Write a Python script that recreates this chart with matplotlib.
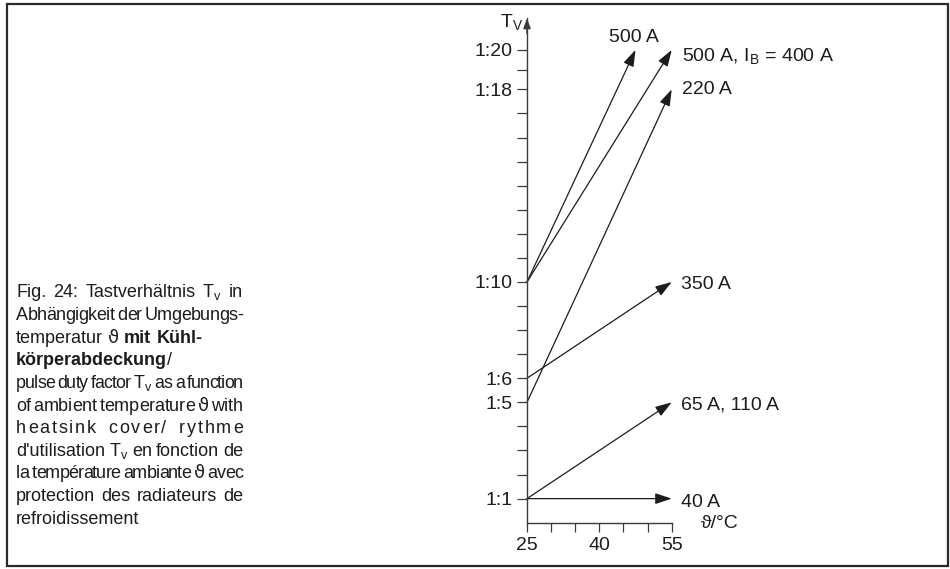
import numpy as np
import matplotlib
matplotlib.use('Agg')
import matplotlib.pyplot as plt
from matplotlib.patches import Rectangle, FancyArrowPatch
from matplotlib.ticker import NullFormatter
from matplotlib.font_manager import FontProperties

plt.rcParams['font.family'] = ['Liberation Sans', 'DejaVu Sans']
plt.rcParams['mathtext.fontset'] = 'custom'
plt.rcParams['mathtext.rm'] = 'Liberation Sans'
plt.rcParams['mathtext.it'] = 'Liberation Sans:italic'
plt.rcParams['mathtext.bf'] = 'Liberation Sans:bold'

# ---------------- data ----------------
series_labels = ['500 A', '500 A, I$_\\mathregular{B}$ = 400 A', '220 A',
                 '350 A', '65 A, 110 A', '40 A']
temp_start = [25, 25, 25, 25, 25, 25]
ratio_start = [10, 10, 5, 6, 1, 1]
temp_end = [47.5, 55, 55, 55, 55, 55]
ratio_end = [20, 20, 18, 10, 5, 1]

y_major_ticks = [1, 5, 6, 10, 18, 20]
y_major_labels = ['1:1', '1:5', '1:6', '1:10', '1:18', '1:20']
y_minor_ticks = [2, 3, 4, 7, 8, 9, 11, 12, 13, 14, 15, 16, 17, 19]
x_major_ticks = [25, 40, 55]
x_major_labels = ['25', '40', '55']
x_minor_ticks = [30, 35, 45, 50]

caption_lines = [
    ['Fig.', '24:', 'Tastverhältnis', 'T$_\\mathregular{v}$', 'in'],
    ['Abhängigkeit', 'der', 'Umgebungs-'],
    ['temperatur', 'ϑ', '*mit', '*Kühl-'],
    ['*körperabdeckung+/'],
    ['pulse', 'duty', 'factor', 'T$_\\mathregular{v}$', 'as', 'a', 'function'],
    ['of', 'ambient', 'temperature', 'ϑ', 'with'],
    ['heatsink', 'cover/', 'rythme'],
    ["d'utilisation", 'T$_\\mathregular{v}$', 'en', 'fonction', 'de'],
    ['la', 'température', 'ambiante', 'ϑ', 'avec'],
    ['protection', 'des', 'radiateurs', 'de'],
    ['refroidissement'],
]
caption_justify = [True, True, False, False, True, True, True, True, True, True, False]
caption_letterspace = [0, 0, 0, 0, 0, 0, 1.8, 0, 0, 0, 0]

# ---------------- layout / style ----------------
W, H = 950, 569
INK = '#1c1c1c'
AX_C = '#3a3a3a'
FS = 14
CAP_FS = 13.0
MIN_GAP = 2.6
MIN_LS = -1.0
# label offsets (px): dx, dy (down positive, baseline rel. to arrow tip), ha
label_offsets = [(-2, -8, 'center'), (10, 11, 'left'), (10, 5, 'left'),
                 (9, 7, 'left'), (9, 7, 'left'), (9, 8, 'left')]

fig = plt.figure(figsize=(W / 100, H / 100), dpi=100)
fig.patch.set_facecolor('white')

y0_px, ytop_px = 522.7, 18.3
ax = fig.add_axes([527 / W, (H - y0_px) / H, (671.7 - 527) / W, (y0_px - ytop_px) / H])


def fwd(y):
    y = np.asarray(y, dtype=float)
    return np.where(y <= 18, y, 18 + (y - 18) * 0.82)


def inv(y):
    y = np.asarray(y, dtype=float)
    return np.where(y <= 18, y, 18 + (y - 18) / 0.82)


ax.set_yscale('function', functions=(fwd, inv))
ax.set_xlim(25, 55)
ax.set_ylim(0, 21.6)

for s in ['top', 'right']:
    ax.spines[s].set_visible(False)
for s in ['left', 'bottom']:
    ax.spines[s].set_color(AX_C)
    ax.spines[s].set_linewidth(1.0)

ax.set_yticks(y_major_ticks, y_major_labels)
ax.set_yticks(y_minor_ticks, minor=True)
ax.yaxis.set_minor_formatter(NullFormatter())
ax.set_xticks(x_major_ticks, x_major_labels)
ax.set_xticks(x_minor_ticks, minor=True)
ax.xaxis.set_minor_formatter(NullFormatter())
ax.tick_params(axis='y', which='both', direction='out', length=7.2, width=0.9,
               color=AX_C, labelsize=FS, pad=3, labelcolor=INK)
ax.tick_params(axis='x', which='both', direction='out', length=6.5, width=0.9,
               color=AX_C, labelsize=FS, pad=4, labelcolor=INK)
ax.patch.set_alpha(0)

# y-axis arrowhead
ax.add_patch(FancyArrowPatch((0, 0.97), (0, 1.0), transform=ax.transAxes,
                             arrowstyle='-|>,head_length=6,head_width=2.2',
                             mutation_scale=1, lw=1.0, color=AX_C,
                             shrinkA=0, shrinkB=0, clip_on=False))

# series arrows
for lab, xs, ys, xe, ye, (dx, dy, ha) in zip(series_labels, temp_start, ratio_start,
                                              temp_end, ratio_end, label_offsets):
    ax.add_patch(FancyArrowPatch((xs, ys), (xe, ye),
                                 arrowstyle='-|>,head_length=10,head_width=3.3',
                                 mutation_scale=1, lw=0.9, color=INK,
                                 shrinkA=0, shrinkB=0, clip_on=False))
    ax.annotate(lab, xy=(xe, ye), xytext=(dx * 0.72, -dy * 0.72),
                textcoords='offset points', ha=ha, va='baseline',
                fontsize=FS, color=INK)

# axis titles
fig.text(523.5 / W, 1 - 27 / H, 'T$_\\mathregular{V}$', fontsize=FS, color=INK,
         ha='right', va='baseline')
fig.text(701 / W, 1 - 528 / H, 'ϑ/°C', fontsize=FS, color=INK,
         ha='left', va='baseline')

# ---------------- caption (justified) ----------------
renderer = fig.canvas.get_renderer()
_cache = {}


def props(s, wt, size):
    if s == 'ϑ':
        return FontProperties(family=['DejaVu Sans'], size=size)
    return FontProperties(family=['Liberation Sans', 'DejaVu Sans'], size=size,
                          weight=wt)


def meas(s, wt, size):
    key = (s, wt, round(size, 3))
    if key not in _cache:
        t = fig.text(0, 0, s, fontproperties=props(s, wt, size))
        _cache[key] = t.get_window_extent(renderer).width
        t.remove()
    return _cache[key]


def segs(word):
    out = []
    for p in word.split('+'):
        if p.startswith('*'):
            out.append((p[1:], 'bold'))
        else:
            out.append((p, 'normal'))
    return out


def inner_count(word):
    return sum(len(s) - 1 for s, _ in segs(word) if '$' not in s)


def layout_word(word, size, ls):
    items = []
    x = 0.0
    for seg, wt in segs(word):
        if '$' in seg or ls == 0 or len(seg) == 1:
            items.append((seg, wt, x))
            x += meas(seg, wt, size)
        else:
            for i, c in enumerate(seg):
                off = meas(seg[:i + 1], wt, size) - meas(c, wt, size) + ls * i
                items.append((c, wt, x + off))
            x += meas(seg, wt, size) + ls * (len(seg) - 1)
    return items, x


X0, X1 = 16, 243
AVAIL = X1 - X0
for i, (words, just, ls0) in enumerate(zip(caption_lines, caption_justify,
                                           caption_letterspace)):
    ybase = 297.3 + 22.65 * i
    nw = len(words)
    size, ls = CAP_FS, ls0
    if just and nw > 1:
        total = sum(layout_word(w, size, ls)[1] for w in words)
        n_inner = sum(inner_count(w) for w in words)
        if total + MIN_GAP * (nw - 1) > AVAIL:
            excess = total + MIN_GAP * (nw - 1) - AVAIL
            ls = -min(-MIN_LS, excess / max(n_inner, 1))
            total2 = sum(layout_word(w, size, ls)[1] for w in words)
            if total2 + MIN_GAP * (nw - 1) > AVAIL:
                total0 = sum(layout_word(w, size, 0)[1] for w in words)
                size = size * (AVAIL - MIN_GAP * (nw - 1) - ls * n_inner) / total0
        lay = [layout_word(w, size, ls) for w in words]
        gap = (AVAIL - sum(l[1] for l in lay)) / (nw - 1)
    else:
        lay = [layout_word(w, size, ls) for w in words]
        gap = meas('a b', 'normal', size) - meas('ab', 'normal', size)
    x = X0
    for (items, wd) in lay:
        for s, wt, off in items:
            fig.text((x + off) / W, 1 - ybase / H, s, fontproperties=props(s, wt, size),
                     color=INK, ha='left', va='baseline')
        x += wd + gap

# frame
fig.add_artist(Rectangle((6.5 / W, 1 - 566 / H), (948 - 6.5) / W, (566 - 3.5) / H,
                         transform=fig.transFigure, fill=False, lw=1.6, ec='#2a2a2a'))

fig.savefig('out.png', dpi=100, facecolor='white')
